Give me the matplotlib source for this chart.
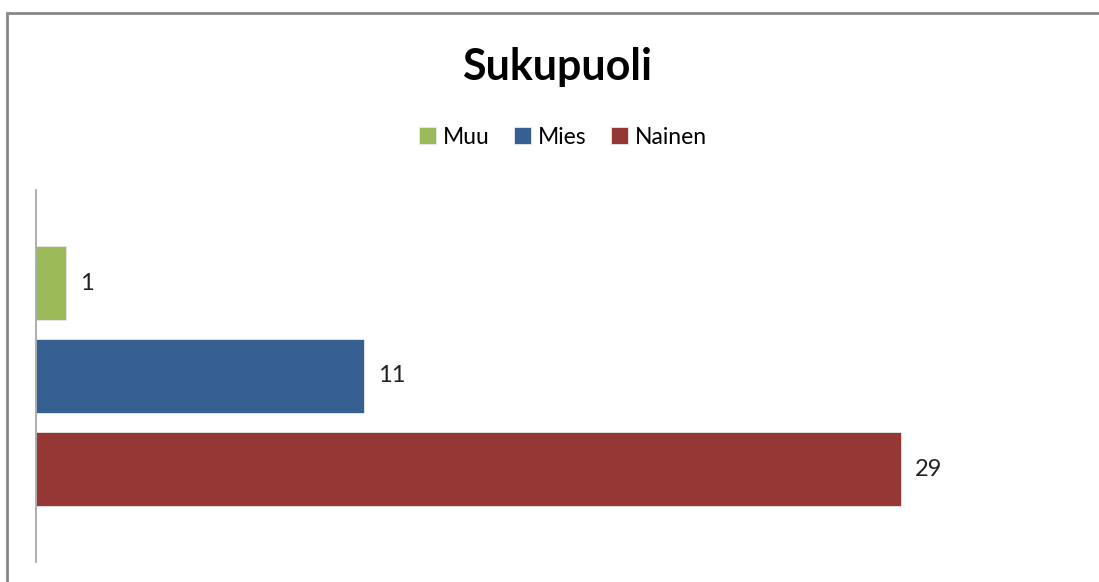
import matplotlib.pyplot as plt
from matplotlib.patches import Rectangle

categories = ['Muu', 'Mies', 'Nainen']
values = [1, 11, 29]
colors = ['#9BBB59', '#376092', '#953735']
positions = [2, 1, 0]

W, H = 1099, 582
plt.rcParams['font.family'] = ['Lato', 'DejaVu Sans']

fig = plt.figure(figsize=(W / 100, H / 100), dpi=100)
ax = fig.add_axes([36 / W, (H - 562) / H, 1044 / W, 372 / H])

bars = []
for cat, val, col, pos in zip(categories, values, colors, positions):
    b = ax.barh(pos, val, height=0.8, color=col, edgecolor='#e8e8e8', linewidth=0.6, label=cat)
    bars.append(b)
    ax.text(val + 0.48, pos, str(val), va='center', ha='left', fontsize=17, color='#222222')

ax.set_xlim(0, 35)
ax.set_ylim(-1, 3)
ax.set_xticks([])
ax.set_yticks([])
for side in ['top', 'right', 'bottom']:
    ax.spines[side].set_visible(False)
ax.spines['left'].set_color('#a0a0a0')
ax.spines['left'].set_linewidth(1.2)

fig.text(557 / W, (H - 67) / H, 'Sukupuoli', ha='center', va='center', fontsize=31, fontweight='bold')

fig.legend(handles=[b for b in bars], labels=categories, loc='center', ncol=3,
           bbox_to_anchor=(563 / W, (H - 137) / H), frameon=False, fontsize=16.5,
           handlelength=0.75, handleheight=0.75, handletextpad=0.3, columnspacing=1.05)

fig.patches.append(Rectangle((7 / W, -0.1), 1.2, (H - 13) / H + 0.1, transform=fig.transFigure,
                             fill=False, edgecolor='#888888', linewidth=2, figure=fig))

fig.savefig('out.png', dpi=100)
